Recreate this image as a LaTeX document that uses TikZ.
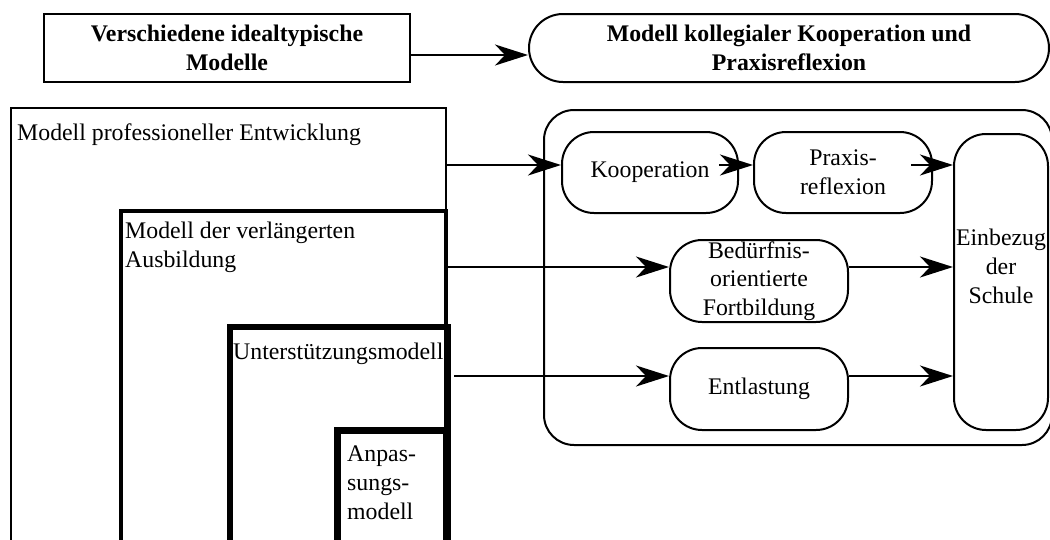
\documentclass[tikz,border=0pt]{standalone}
\usepackage{fontspec}
\setmainfont{Liberation Serif}
\usetikzlibrary{arrows.meta,calc}
\begin{document}
\begin{tikzpicture}[x=1pt,y=-1pt,
  txt/.style={font=\fontsize{23.8}{28.6}\selectfont, inner sep=0pt, align=center},
  boldtxt/.style={font=\fontsize{23.8}{28.6}\selectfont\bfseries},
  boxline/.style={draw, line width=2pt},
  sqbox/.style={txt, boxline, rectangle},
  pill/.style={txt, boxline, rectangle, rounded corners=32pt},
  nest/.style={draw, rectangle, inner sep=0pt, outer sep=0pt, anchor=north west},
  lbl/.style={font=\fontsize{23.8}{29}\selectfont, inner sep=0pt, align=left, anchor=north west},
  arr/.style={line width=2pt, -{Stealth[length=33pt,width=21pt,inset=10pt]}},
]
\clip (0,0) rectangle (1050,539);

% title row
\node[sqbox, boldtxt, minimum width=366pt, minimum height=68pt] (tl) at (227,48) {Verschiedene idealtypische\\Modelle};
\node[pill, boldtxt, rounded corners=34pt, minimum width=520pt, minimum height=68pt] (tr) at (789,48) {Modell kollegialer Kooperation und\\Praxisreflexion};

% nested models
\node[nest, line width=2pt, minimum width=435pt, minimum height=460pt] (b1) at (11,108) {};
\node[nest, line width=4pt, minimum width=325pt, minimum height=360pt] (b2) at (121,211) {};
\node[nest, line width=6pt, minimum width=218.5pt, minimum height=240pt] (b3) at (229.5,327) {};
\node[nest, line width=7pt, minimum width=108.5pt, minimum height=140pt] (b4) at (337.5,430) {};

\node[lbl] (b1t) at (17,123.7) {Modell professioneller Entwicklung};
\node[lbl] (b2t) at (125,221.7) {Modell der verlängerten\\Ausbildung};
\node[lbl] (b3t) at (233,342.7) {Unterstützungsmodell};
\node[lbl] (b4t) at (347,445.7) {Anpas-\\sungs-\\modell};

% right group
\node[pill, rounded corners=30pt, minimum width=508pt, minimum height=335pt] (grp) at (798,277.5) {};
\node[pill, minimum width=176pt, minimum height=81pt] (koop) at (650,172.5) {Kooperation};
\node[pill, minimum width=178pt, minimum height=81pt] (prax) at (843,172.5) {Praxis-\\reflexion};
\node[pill, minimum width=178pt, minimum height=82pt] (bed) at (759,281) {Bedürfnis-\\orientierte\\Fortbildung};
\node[pill, minimum width=178pt, minimum height=82pt] (ent) at (759,389) {Entlastung};
\node[pill, minimum width=94pt, minimum height=296pt] (einb) at (1001,282) {Einbezug\\der\\Schule\\[3pt]\mbox{}};

% arrow rows
\coordinate (ra) at (0,55);
\coordinate (r1) at (0,165);
\coordinate (r2) at (0,267);
\coordinate (r3) at (0,376);

\draw[arr] (tl.east |- ra) -- (tr.west |- ra);
\draw[arr] (b1.east |- r1) -- (koop.west |- r1);
\draw[arr] ($(koop.east |- r1)+(-20,0)$) -- (prax.west |- r1);
\draw[arr] ($(prax.east |- r1)+(-22,0)$) -- (einb.west |- r1);
\draw[arr] (b2.east |- r2) -- (bed.west |- r2);
\draw[arr] (bed.east |- r2) -- (einb.west |- r2);
\draw[arr] ($(b3.east |- r3)+(6,0)$) -- (ent.west |- r3);
\draw[arr] (ent.east |- r3) -- (einb.west |- r3);
\end{tikzpicture}
\end{document}
